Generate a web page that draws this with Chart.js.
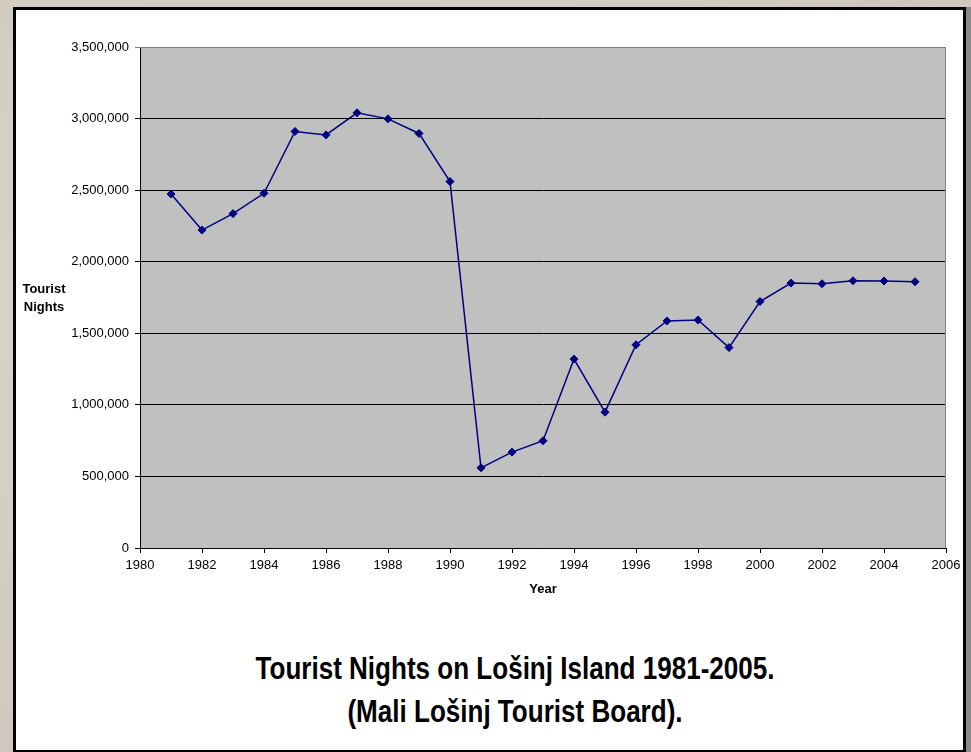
<!DOCTYPE html>
<html>
<head>
<meta charset="utf-8">
<script src="https://cdn.jsdelivr.net/npm/chart.js@4.4.1/dist/chart.umd.min.js"></script>
<style>
    body {
        margin: 0;
        width: 971px;
        height: 752px;
        overflow: hidden;
        background: radial-gradient(ellipse at 30% 40%, #ddd5cb 0%, #d4cbc0 60%, #cdc3b7 100%);
        font-family: "Liberation Sans", Arial, sans-serif;
    }
    #box {
        position: absolute;
        left: 13px;
        top: 7px;
        width: 947px;
        height: 740px;
        background: #fff;
        border: 3px solid #000;
        box-shadow: 5px 0 0 #8a8a8a;
    }
    #chartWrap {
        position: absolute;
        left: 0;
        top: 0;
        width: 947px;
        height: 600px;
    }
    #yTitle {
        position: absolute;
        left: 0;
        top: 270px;
        width: 56px;
        text-align: center;
        font-weight: bold;
        font-size: 13px;
        line-height: 18px;
        color: #000;
    }
    #caption {
        position: absolute;
        left: 0;
        top: 637px;
        width: 998px;
        text-align: center;
        font-family: "Liberation Sans", Arial, sans-serif;
        font-weight: bold;
        font-size: 31px;
        line-height: 43px;
        color: #000;
        transform: scaleX(0.84);
        transform-origin: 499px 50%;
    }
</style>
</head>
<body>
<div id="box">
    <div id="chartWrap"><canvas id="myChart"></canvas></div>
    <div id="yTitle">Tourist<br>Nights</div>
    <div id="caption">Tourist Nights on Lošinj Island 1981-2005.<br>(Mali Lošinj Tourist Board).</div>
</div>

<script>
// Tourist nights per year
const years = [1981, 1982, 1983, 1984, 1985, 1986, 1987, 1988, 1989, 1990,
               1991, 1992, 1993, 1994, 1995, 1996, 1997, 1998, 1999, 2000,
               2001, 2002, 2003, 2004, 2005];
const nights = [2473000, 2221000, 2336000, 2478000, 2910000, 2886000, 3040000, 2998000, 2896000, 2560000,
                560000, 670000, 749000, 1320000, 949000, 1420000, 1586000, 1593000, 1400000, 1722000,
                1851000, 1846000, 1867000, 1865000, 1860000];

const yMin = 0, yMax = 3500000, yStep = 500000;
const xMin = 1980, xMax = 2006, xStep = 2;

const points = years.map((yr, i) => ({ x: yr, y: nights[i] }));

// gray plot background + gray top/right frame
const plotBg = {
    id: 'plotBg',
    beforeDraw(chart) {
        const a = chart.chartArea;
        const c = chart.ctx;
        c.save();
        c.fillStyle = '#c0c0c0';
        c.fillRect(a.left, a.top, a.right - a.left, a.bottom - a.top);
        c.restore();
    },
    afterDatasetsDraw(chart) {
        const a = chart.chartArea;
        const c = chart.ctx;
        c.save();
        c.strokeStyle = '#808080';
        c.lineWidth = 1;
        c.beginPath();
        c.moveTo(a.left, a.top + 0.5);
        c.lineTo(a.right - 0.5, a.top + 0.5);
        c.lineTo(a.right - 0.5, a.bottom);
        c.stroke();
        c.restore();
    }
};

Chart.defaults.font.family = '"Liberation Sans", Arial, sans-serif';
Chart.defaults.color = '#000';

const ctx = document.getElementById('myChart').getContext('2d');
new Chart(ctx, {
    type: 'line',
    data: {
        datasets: [{
            data: points,
            borderColor: '#000080',
            backgroundColor: '#000080',
            borderWidth: 1.5,
            pointStyle: 'rectRot',
            pointRadius: 4,
            pointBorderWidth: 1,
            tension: 0,
            fill: false
        }]
    },
    options: {
        responsive: true,
        maintainAspectRatio: false,
        animation: false,
        layout: { padding: { top: 37, right: 17, left: 0, bottom: 13 } },
        plugins: {
            legend: { display: false },
            tooltip: { enabled: false }
        },
        scales: {
            x: {
                type: 'linear',
                min: xMin,
                max: xMax,
                ticks: {
                    stepSize: xStep,
                    padding: 5,
                    font: { size: 13 },
                    callback: v => String(v)
                },
                grid: {
                    drawOnChartArea: false,
                    drawTicks: true,
                    tickLength: 5,
                    color: '#000'
                },
                border: { color: '#000', width: 1 },
                title: {
                    display: true,
                    text: 'Year',
                    font: { size: 13, weight: 'bold' },
                    padding: { top: 4, bottom: 0 }
                },
                afterFit(scale) {
                    scale.height = 49;
                    scale.paddingLeft = 0;
                    scale.paddingRight = 0;
                }
            },
            y: {
                min: yMin,
                max: yMax,
                ticks: {
                    stepSize: yStep,
                    padding: 6,
                    font: { size: 13 },
                    callback: v => v.toLocaleString('en-US')
                },
                grid: {
                    color: c => c.tick && c.tick.value === yMax ? '#808080' : '#000',
                    lineWidth: 1,
                    tickLength: 5
                },
                border: { color: '#000', width: 1 },
                afterFit(scale) { scale.width = 124; }
            }
        }
    },
    plugins: [plotBg]
});
</script>
</body>
</html>
